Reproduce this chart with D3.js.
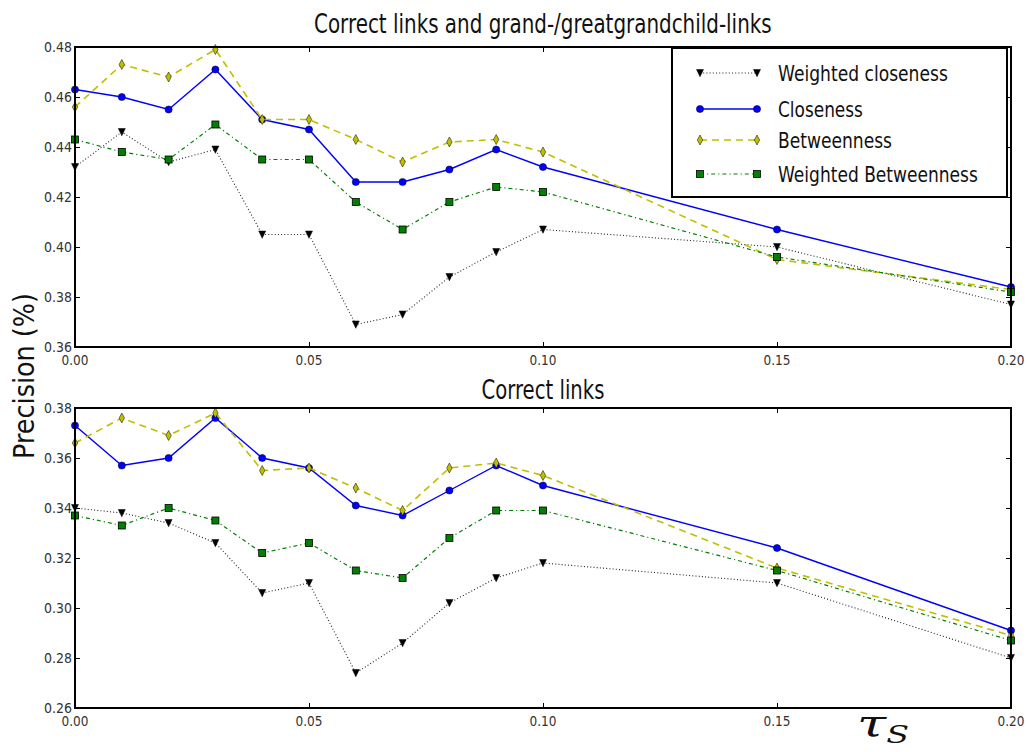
<!DOCTYPE html>
<html><head><meta charset="utf-8">
<script src="https://cdn.jsdelivr.net/npm/d3@7"></script>
<style>body{margin:0;background:#fff}</style>
</head><body><svg id="c" width="1027" height="752"></svg>
<script>
// ---------- data ----------
const xValues = [0.00,0.01,0.02,0.03,0.04,0.05,0.06,0.07,0.08,0.09,0.10,0.15,0.20];
const xTicks = [0.00,0.05,0.10,0.15,0.20];
const topYTicks = [0.36,0.38,0.40,0.42,0.44,0.46,0.48];
const botYTicks = [0.26,0.28,0.30,0.32,0.34,0.36,0.38];
const seriesNames = ["Weighted closeness","Closeness","Betweenness","Weighted Betweenness"];
const topTitle = "Correct links and grand-/greatgrandchild-links";
const bottomTitle = "Correct links";
const yLabel = "Precision (%)";

const topWeightedCloseness   = [0.432,0.446,0.434,0.439,0.405,0.405,0.369,0.373,0.388,0.398,0.407,0.400,0.377];
const topCloseness           = [0.463,0.460,0.455,0.471,0.451,0.447,0.426,0.426,0.431,0.439,0.432,0.407,0.384];
const topBetweenness         = [0.456,0.473,0.468,0.479,0.451,0.451,0.443,0.434,0.442,0.443,0.438,0.395,0.383];
const topWeightedBetweenness = [0.443,0.438,0.435,0.449,0.435,0.435,0.418,0.407,0.418,0.424,0.422,0.396,0.382];

const botWeightedCloseness   = [0.340,0.338,0.334,0.326,0.306,0.310,0.274,0.286,0.302,0.312,0.318,0.310,0.280];
const botCloseness           = [0.373,0.357,0.360,0.376,0.360,0.356,0.341,0.337,0.347,0.357,0.349,0.324,0.291];
const botBetweenness         = [0.366,0.376,0.369,0.378,0.355,0.356,0.348,0.339,0.356,0.358,0.353,0.316,0.289];
const botWeightedBetweenness = [0.337,0.333,0.340,0.335,0.322,0.326,0.315,0.312,0.328,0.339,0.339,0.315,0.287];

// ---------- styles ----------
const styles = [
  {stroke:"#222", width:1.1, dash:"1,2.2", marker:"tri", fill:"#000"},
  {stroke:"#0000ff", width:1.4, dash:null, marker:"circle", fill:"#0000ff"},
  {stroke:"#bfbf00", width:1.6, dash:"7,5", marker:"diamond", fill:"#bfbf00"},
  {stroke:"#008000", width:1.2, dash:"4,3,1.2,3", marker:"square", fill:"#008000"}
];

const svg = d3.select("#c");
const FONT = "'DejaVu Sans', sans-serif";
const x = d3.scaleLinear().domain([0,0.2]).range([75,1011]);

// text squeezed horizontally to a target width (reference figure is condensed)
function squeezed(parent, str, px, py, size, width, anchor, opts={}){
  const g = parent.append("g");
  const t = g.append("text").attr("font-family",opts.family||FONT).attr("font-size",size)
    .attr("fill",opts.fill||"#111").attr("font-style",opts.style||null);
  if(opts.build) opts.build(t); else t.text(str);
  const natural = t.node().getComputedTextLength();
  const sx = width/natural;
  let x0 = 0;
  if(anchor==="middle") x0 = -natural/2; else if(anchor==="end") x0 = -natural;
  t.attr("x",x0);
  g.attr("transform",`translate(${px},${py})${opts.rotate?` rotate(${opts.rotate})`:""} scale(${sx},1)`);
  return g;
}

const panels = [
  {top:47, bottom:347, domain:[0.36,0.48], ticks:topYTicks, title:topTitle, titleY:33, titleLen:458,
   data:[topWeightedCloseness,topCloseness,topBetweenness,topWeightedBetweenness], legend:true},
  {top:408, bottom:708, domain:[0.26,0.38], ticks:botYTicks, title:bottomTitle, titleY:399, titleLen:123,
   data:[botWeightedCloseness,botCloseness,botBetweenness,botWeightedBetweenness], legend:false}
];

function drawMarker(g, type, cx, cy, st){
  if(type==="circle"){
    g.append("circle").attr("cx",cx).attr("cy",cy).attr("r",3.6)
      .attr("fill",st.fill).attr("stroke","#000").attr("stroke-width",0.5);
  } else if(type==="tri"){
    g.append("path").attr("d",`M${cx-3.5},${cy-3.5}L${cx+3.5},${cy-3.5}L${cx},${cy+3.8}Z`)
      .attr("fill","#000").attr("stroke","#000").attr("stroke-width",0.5);
  } else if(type==="diamond"){
    g.append("path").attr("d",`M${cx},${cy-5}L${cx+2.7},${cy}L${cx},${cy+5}L${cx-2.7},${cy}Z`)
      .attr("fill",st.fill).attr("stroke","#000").attr("stroke-width",0.5);
  } else if(type==="square"){
    g.append("rect").attr("x",cx-3.5).attr("y",cy-3.5).attr("width",7).attr("height",7)
      .attr("fill",st.fill).attr("stroke","#000").attr("stroke-width",0.8);
  }
}

const fmt = d3.format(".2f");

panels.forEach(p=>{
  const y = d3.scaleLinear().domain(p.domain).range([p.bottom,p.top]);
  const g = svg.append("g");

  // series
  p.data.forEach((vals,i)=>{
    const st = styles[i];
    const line = d3.line().x((d,j)=>x(xValues[j])).y(d=>y(d));
    g.append("path").attr("d",line(vals)).attr("fill","none")
      .attr("stroke",st.stroke).attr("stroke-width",st.width)
      .attr("stroke-dasharray",st.dash);
    const mg = g.append("g");
    vals.forEach((v,j)=>drawMarker(mg, st.marker, x(xValues[j]), y(v), st));
  });

  // axes (ticks inward on all sides), labels drawn separately
  const left = d3.axisLeft(y).tickValues(p.ticks).tickSize(-5).tickFormat("");
  const right = d3.axisRight(y).tickValues(p.ticks).tickSize(-5).tickFormat("");
  const bottom = d3.axisBottom(x).tickValues(xTicks).tickSize(-5).tickFormat("");
  const topA = d3.axisTop(x).tickValues(xTicks).tickSize(-5).tickFormat("");
  const gl = g.append("g").attr("transform",`translate(75,0)`).call(left);
  const gr = g.append("g").attr("transform",`translate(1011,0)`).call(right);
  const gb = g.append("g").attr("transform",`translate(0,${p.bottom})`).call(bottom);
  const gt = g.append("g").attr("transform",`translate(0,${p.top})`).call(topA);
  [gl,gr,gb,gt].forEach(a=>{
    a.select(".domain").remove();
    a.selectAll(".tick line").attr("stroke","#000").attr("stroke-width",1);
  });
  // tick labels
  p.ticks.forEach(v=>{
    squeezed(g, fmt(v), 72, y(v)+5, 14, 28, "end", {fill:"#333"});
  });
  xTicks.forEach(v=>{
    squeezed(g, fmt(v), x(v), p.bottom+18, 14, 27, "middle", {fill:"#333"});
  });
  // frame
  g.append("rect").attr("x",75).attr("y",p.top).attr("width",1011-75).attr("height",p.bottom-p.top)
    .attr("fill","none").attr("stroke","#000").attr("stroke-width",2);

  // title
  squeezed(svg, p.title, 543, p.titleY, 26, p.titleLen, "middle");

  if(p.legend){
    const lg = svg.append("g");
    lg.append("rect").attr("x",672).attr("y",48).attr("width",335).attr("height",149)
      .attr("fill","#fff").attr("stroke","#000").attr("stroke-width",2);
    const rowsY = [73,109,140,174];
    const textLens = [170,85,114,200];
    seriesNames.forEach((name,i)=>{
      const st = styles[i];
      const ry = rowsY[i];
      lg.append("line").attr("x1",700).attr("x2",757).attr("y1",ry).attr("y2",ry)
        .attr("stroke",st.stroke).attr("stroke-width",st.width).attr("stroke-dasharray",st.dash);
      drawMarker(lg, st.marker, 700, ry, st);
      drawMarker(lg, st.marker, 757, ry, st);
      squeezed(lg, name, 778, ry+8, 22, textLens[i], "start");
    });
  }
});

// y label
squeezed(svg, yLabel, 34, 376, 29, 166, "middle", {rotate:-90});

// x label tau_S (single text, subscript S)
squeezed(svg, "τS", 857, 736, 38, 52, "start", {family:"'DejaVu Serif', serif", style:"italic",
  build:t=>{
    t.append("tspan").text("τ");
    t.append("tspan").attr("font-size",24).attr("dy",7).text("S");
  }});
</script></body></html>
